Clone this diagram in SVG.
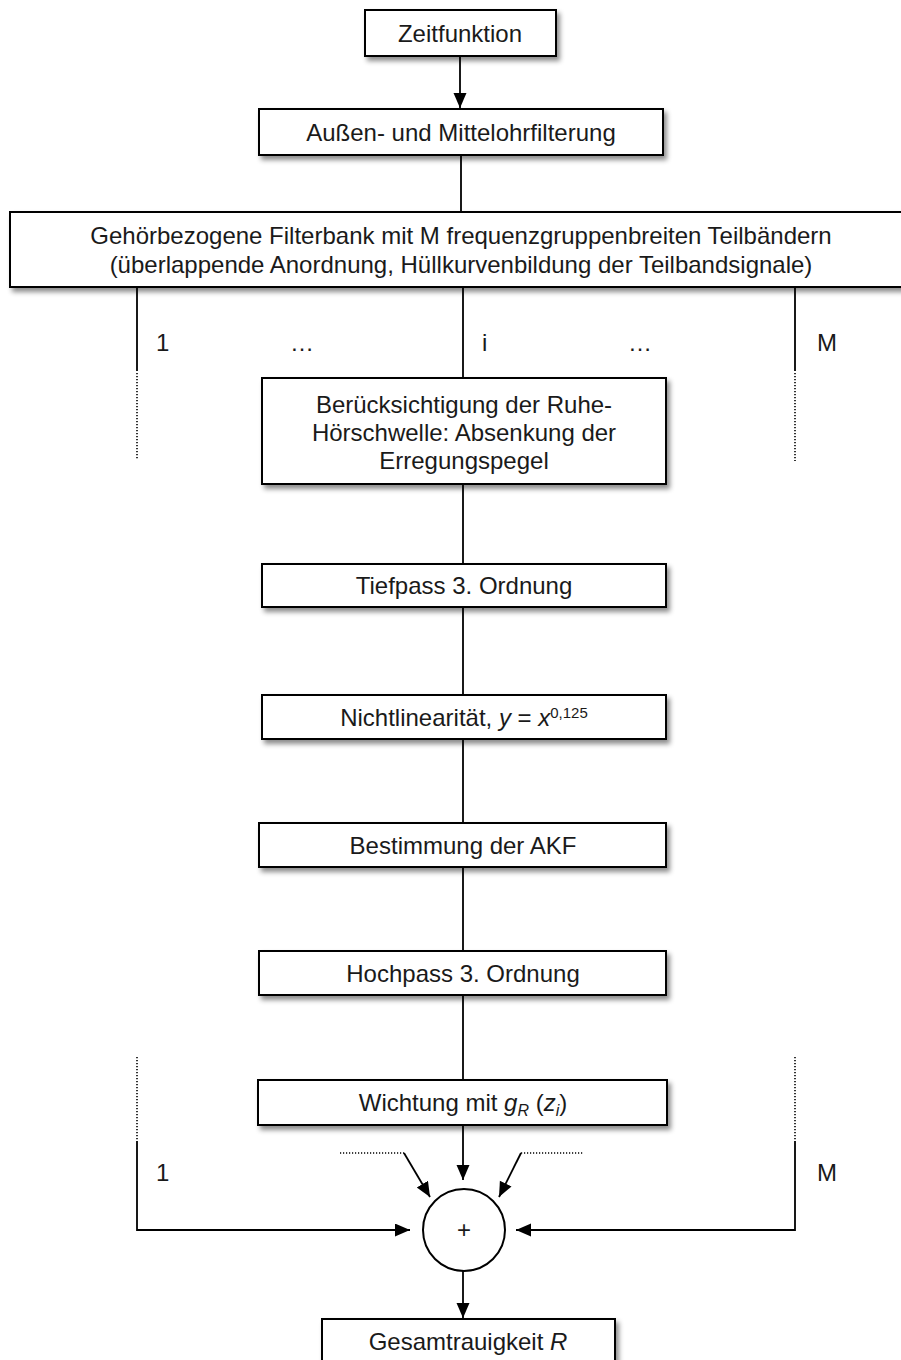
<svg xmlns="http://www.w3.org/2000/svg" width="901" height="1360" viewBox="0 0 901 1360">
<style>
.box{fill:#fff;stroke:#000;stroke-width:2;filter:url(#sh)}
.t{font-family:"Liberation Sans",Arial,sans-serif;font-size:24px;fill:#1a1a1a;text-anchor:middle}
.l{font-family:"Liberation Sans",Arial,sans-serif;font-size:24px;fill:#1a1a1a}
.c{fill:none;stroke:#000;stroke-width:1.8}
.d{fill:none;stroke:#000;stroke-width:1.6;stroke-dasharray:1.2 1.8}
</style>
<defs>
<filter id="sh" x="-5%" y="-20%" width="115%" height="160%">
<feDropShadow dx="3" dy="4" stdDeviation="2.5" flood-color="#000" flood-opacity="0.45"/>
</filter>
<marker id="ah" markerUnits="userSpaceOnUse" markerWidth="16" markerHeight="14" refX="15" refY="6.5" orient="auto">
<path d="M0,0 L15,6.5 L0,13 z" fill="#000"/>
</marker>
</defs>
<g id="connectors">
<line class="c" x1="460" y1="56" x2="460" y2="108" marker-end="url(#ah)"/>
<line class="c" x1="461" y1="155" x2="461" y2="212"/>
<line class="c" x1="137" y1="287" x2="137" y2="371"/>
<line class="d" x1="137" y1="373" x2="137" y2="459"/>
<line class="c" x1="463" y1="287" x2="463" y2="378"/>
<line class="c" x1="795" y1="287" x2="795" y2="371"/>
<line class="d" x1="795" y1="373" x2="795" y2="461"/>
<line class="c" x1="463" y1="484" x2="463" y2="564"/>
<line class="c" x1="463" y1="607" x2="463" y2="695"/>
<line class="c" x1="463" y1="739" x2="463" y2="823"/>
<line class="c" x1="463" y1="867" x2="463" y2="951"/>
<line class="c" x1="463" y1="995" x2="463" y2="1080"/>
<line class="c" x1="463" y1="1125" x2="463" y2="1180" marker-end="url(#ah)"/>
<line class="d" x1="137" y1="1057" x2="137" y2="1140"/>
<polyline class="c" points="137,1141 137,1230 410,1230" marker-end="url(#ah)"/>
<line class="d" x1="795" y1="1057" x2="795" y2="1140"/>
<polyline class="c" points="795,1141 795,1230 516,1230" marker-end="url(#ah)"/>
<line class="d" x1="340" y1="1153" x2="404" y2="1153"/>
<line class="c" x1="404" y1="1153" x2="430" y2="1197" marker-end="url(#ah)"/>
<line class="d" x1="521" y1="1153" x2="583" y2="1153"/>
<line class="c" x1="521" y1="1153" x2="499" y2="1197" marker-end="url(#ah)"/>
<line class="c" x1="463" y1="1271" x2="463" y2="1318" marker-end="url(#ah)"/>
</g>
<g id="labels">
<text class="l" x="156" y="351">1</text>
<text class="l" x="290" y="351">…</text>
<text class="l" x="482" y="351">i</text>
<text class="l" x="628" y="351">…</text>
<text class="l" x="817" y="351">M</text>
<text class="l" x="156" y="1181">1</text>
<text class="l" x="817" y="1181">M</text>
</g>
<g id="n1"><rect class="box" x="365" y="10" width="191" height="46"/><text class="t" x="460" y="42">Zeitfunktion</text></g>
<g id="n2"><rect class="box" x="259" y="109" width="404" height="46"/><text class="t" x="461" y="141">Außen- und Mittelohrfilterung</text></g>
<g id="n3"><rect class="box" x="10" y="212" width="895" height="75"/><text class="t" x="461" y="244">Gehörbezogene Filterbank mit M frequenzgruppenbreiten Teilbändern</text><text class="t" x="461" y="273">(überlappende Anordnung, Hüllkurvenbildung der Teilbandsignale)</text></g>
<g id="n4"><rect class="box" x="262" y="378" width="404" height="106"/><text class="t" x="464" y="413">Berücksichtigung der Ruhe-</text><text class="t" x="464" y="441">Hörschwelle: Absenkung der</text><text class="t" x="464" y="469">Erregungspegel</text></g>
<g id="n5"><rect class="box" x="262" y="564" width="404" height="43"/><text class="t" x="464" y="594">Tiefpass 3. Ordnung</text></g>
<g id="n6"><rect class="box" x="262" y="695" width="404" height="44"/><text class="t" x="464" y="726">Nichtlinearität, <tspan font-style="italic">y</tspan> = <tspan font-style="italic">x</tspan><tspan font-size="15" dy="-8">0,125</tspan></text></g>
<g id="n7"><rect class="box" x="259" y="823" width="407" height="44"/><text class="t" x="463" y="854">Bestimmung der AKF</text></g>
<g id="n8"><rect class="box" x="259" y="951" width="407" height="44"/><text class="t" x="463" y="982">Hochpass 3. Ordnung</text></g>
<g id="n9"><rect class="box" x="258" y="1080" width="409" height="45"/><text class="t" x="463" y="1111">Wichtung mit <tspan font-style="italic">g</tspan><tspan font-style="italic" font-size="16" dy="5">R</tspan><tspan dy="-5"> (</tspan><tspan font-style="italic">z</tspan><tspan font-style="italic" font-size="16" dy="5">i</tspan><tspan dy="-5">)</tspan></text></g>
<g id="sum"><circle cx="464" cy="1230" r="41" fill="#fff" stroke="#000" stroke-width="2"/><text class="t" x="464" y="1238" style="font-size:24px">+</text></g>
<g id="n10"><rect class="box" x="322" y="1319" width="293" height="44"/><text class="t" x="468" y="1350">Gesamtrauigkeit <tspan font-style="italic">R</tspan></text></g>
</svg>
